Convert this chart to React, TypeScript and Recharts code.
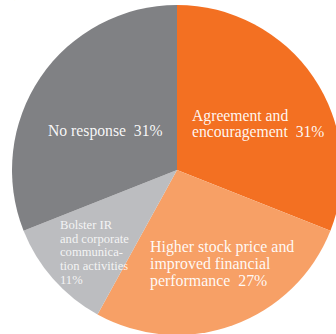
import { PieChart, Pie, Cell } from "recharts";

// survey shares, clockwise from 12 o'clock
const categories = [
  "Agreement and encouragement",
  "Higher stock price and improved financial performance",
  "Bolster IR and corporate communication activities",
  "No response",
];
const shares = [31, 27, 11, 31];
const sliceColors = ["#F37022", "#F7A066", "#BCBDC0", "#808184"];
// label text as broken in the print layout; the percent goes on the last line
const labelLines = [
  ["Agreement and", "encouragement"],
  ["Higher stock price and", "improved financial", "performance"],
  ["Bolster IR", "and corporate", "communica-", "tion activities", ""],
  ["No response"],
];

const data = categories.map((name, i) => ({ name, value: shares[i] }));

// text block placement relative to the pie centre
const labelLayout = [
  { dx: 15, dy: -49, size: 15.7, lh: 15.5, opacity: 0.95 },
  { dx: -27, dy: 82, size: 15.9, lh: 17, opacity: 0.95 },
  { dx: -117, dy: 59, size: 12.6, lh: 13.7, opacity: 0.85 },
  { dx: -129, dy: -34, size: 15.7, lh: 15.5, opacity: 0.95 },
];

const FONT = '"Liberation Serif", "Times New Roman", serif';

function renderLabel(props: any) {
  const { cx, cy, index, value } = props;
  const l = labelLayout[index];
  const lines = labelLines[index].slice();
  const last = lines.length - 1;
  lines[last] = (lines[last] ? lines[last] + "  " : "") + value + "%";
  return (
    <text
      key={index}
      x={cx + l.dx}
      y={cy + l.dy}
      fill="#ffffff"
      fillOpacity={l.opacity}
      fontFamily={FONT}
      fontSize={l.size}
      textAnchor="start"
      style={{ whiteSpace: "pre" }}
    >
      {lines.map((t, j) => (
        <tspan key={j} x={cx + l.dx} dy={j === 0 ? 0 : l.lh}>
          {t}
        </tspan>
      ))}
    </text>
  );
}

export default function App() {
  return (
    <div style={{ position: "absolute", left: 0, top: 0, width: 336, height: 334, background: "#fff" }}>
      {/* caption of the figure sits above the crop; only its descenders show */}
      <svg width={336} height={20} style={{ position: "absolute", left: 0, top: 0 }}>
        <text x={11} y={-3} fill="#F37022" fontFamily={FONT} fontSize={14}>
          (Companies responding)
        </text>
      </svg>
      <PieChart width={336} height={334} margin={{ top: 0, right: 0, bottom: 0, left: 0 }}>
        <Pie
          data={data}
          dataKey="value"
          nameKey="name"
          cx={177}
          cy={170}
          outerRadius={165}
          startAngle={90}
          endAngle={-270}
          stroke="none"
          labelLine={false}
          label={renderLabel}
          isAnimationActive={false}
        >
          {data.map((d, i) => (
            <Cell key={d.name} fill={sliceColors[i]} />
          ))}
        </Pie>
      </PieChart>
    </div>
  );
}
